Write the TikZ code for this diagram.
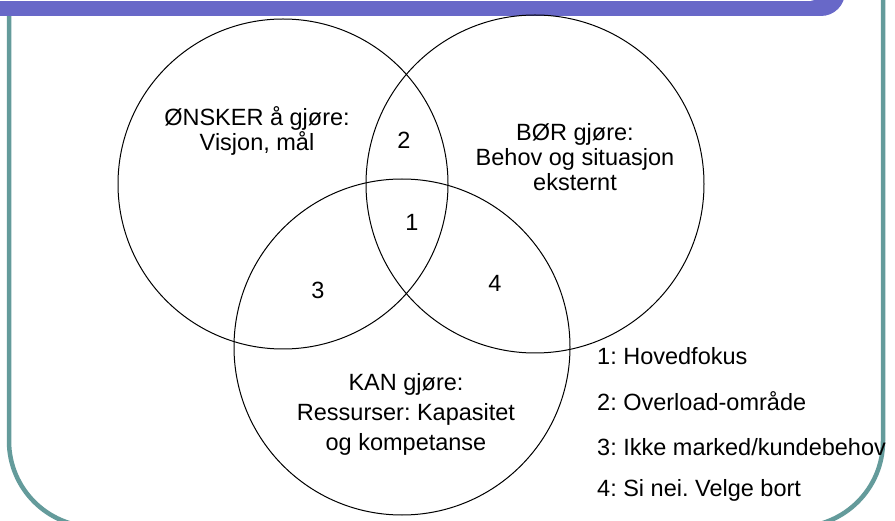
\documentclass[tikz,border=0pt]{standalone}
\usepackage{fontspec}
\setmainfont{Liberation Sans}
\definecolor{bandcol}{HTML}{6868C8}
\definecolor{framecol}{HTML}{649B9B}
\begin{document}
\frenchspacing
\begin{tikzpicture}[x=1pt,y=-1pt,
  vcirc/.style={draw=black, line width=1pt, circle, inner sep=0pt, fill=none},
  lbl/.style={font=\fontsize{23.5}{25}\selectfont, align=center, inner sep=0pt},
  legend/.style={font=\fontsize{23.5}{25}\selectfont, anchor=west, inner sep=0pt}]
\useasboundingbox (0,0) rectangle (895,521);
% teal frame
\draw[framecol, line width=4.5pt, rounded corners=86pt] (9,-40) -- (9,527) -- (883,527) -- (883,-40);
% purple title band
\fill[bandcol, rounded corners=24pt] (-40,-60) rectangle (845,16);
\fill[white, rounded corners=8pt] (-40,-60) rectangle (818,1);
% circles
\node[vcirc, minimum size=330pt] (c1) at (283,184) {};
\node[vcirc, minimum size=338pt] (c2) at (535,184) {};
\node[vcirc, minimum size=336pt] (c3) at (402,347) {};
% labels
\node[lbl] (t1) at (257,131) {ØNSKER å gjøre:\\Visjon, mål};
\node[lbl] (t2) at (575,157) {BØR gjøre:\\Behov og situasjon\\eksternt};
\node[lbl, font=\fontsize{23.5}{30}\selectfont] (t3) at (406,414) {KAN gjøre:\\Ressurser: Kapasitet\\og kompetanse};
\node[lbl] (n2) at (404,140) {2};
\node[lbl] (n1) at (412,222) {1};
\node[lbl] (n3) at (318,290) {3};
\node[lbl] (n4) at (495,283) {4};
\node[legend] (l1) at (597,356) {1: Hovedfokus};
\node[legend] (l2) at (597,401) {2: Overload-område};
\node[legend] (l3) at (597,447) {3: Ikke marked/kundebehov};
\node[legend] (l4) at (597,490) {4: Si nei. Velge bort};
\end{tikzpicture}
\end{document}
